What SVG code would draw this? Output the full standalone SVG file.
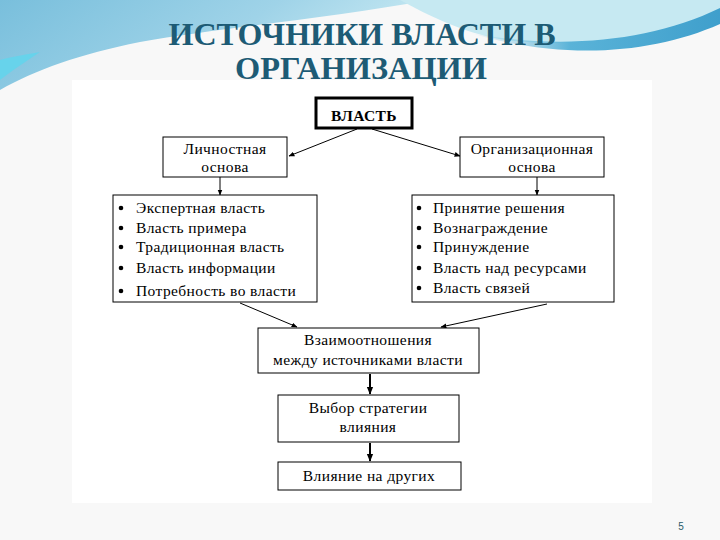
<svg xmlns="http://www.w3.org/2000/svg" width="720" height="540" viewBox="0 0 720 540">
<defs>
<linearGradient id="gL" x1="0" y1="0" x2="1" y2="0.3">
<stop offset="0" stop-color="#79bfdc"/>
<stop offset="0.6" stop-color="#9fd3e8"/>
<stop offset="1" stop-color="#c9eaf3"/>
</linearGradient>
<linearGradient id="gS" x1="0" y1="0" x2="1" y2="0">
<stop offset="0" stop-color="#7cc3df" stop-opacity="0"/>
<stop offset="0.4" stop-color="#5ab3d8"/>
<stop offset="1" stop-color="#3f9fcc"/>
</linearGradient>
<marker id="ah" viewBox="0 0 10 10" refX="9" refY="5" markerWidth="6" markerHeight="6" orient="auto" markerUnits="userSpaceOnUse">
<path d="M0,1 L10,5 L0,9 Z" fill="#000"/>
</marker>
<marker id="ahb" viewBox="0 0 10 10" refX="9" refY="5" markerWidth="8" markerHeight="8" orient="auto" markerUnits="userSpaceOnUse">
<path d="M0,1 L10,5 L0,9 Z" fill="#000"/>
</marker>
</defs>
<style>
.box{fill:#fff;stroke:#000;stroke-width:1}
.t{font-family:"Liberation Serif","Times New Roman",serif;font-size:15.5px;letter-spacing:0.4px;fill:#000}
.c{text-anchor:middle}
.title{font-family:"Liberation Serif","Times New Roman",serif;font-weight:bold;font-size:31px;fill:#1d5b75;text-anchor:middle}
.ln{stroke:#000;stroke-width:1;fill:none}
.lnb{stroke:#000;stroke-width:2;fill:none}
.bul{fill:#000}
</style>
<rect x="0" y="0" width="720" height="540" fill="#f8f8f8"/>
<rect x="72" y="80" width="580" height="423" fill="#fff"/>
<g id="background">
<path d="M0,0 H430 C330,18 220,28 140,42 C80,54 35,70 0,90 Z" fill="url(#gL)"/>
<path d="M0,60 C15,56 30,54 40,52 C25,62 10,72 0,80 Z" fill="#5fd6ee" opacity="0.8"/>
<path d="M400,0 H720 V14 C660,40 570,48 505,40 C460,32 430,16 400,0 Z" fill="#c6e9f2"/>
<path d="M470,33 C560,50 650,42 720,8 L720,24 C650,55 560,60 470,33 Z" fill="url(#gS)"/>
</g>
<g id="title">
<text class="title" x="362" y="45" textLength="387" lengthAdjust="spacingAndGlyphs">ИСТОЧНИКИ ВЛАСТИ В</text>
<text class="title" x="361" y="79" textLength="252" lengthAdjust="spacingAndGlyphs">ОРГАНИЗАЦИИ</text>
</g>
<g id="connectors">
<line class="ln" x1="357" y1="129" x2="289" y2="156" marker-end="url(#ah)"/>
<line class="ln" x1="372" y1="129" x2="460" y2="156" marker-end="url(#ah)"/>
<line class="ln" x1="220" y1="177" x2="220" y2="195" marker-end="url(#ah)"/>
<line class="ln" x1="537" y1="177" x2="537" y2="195" marker-end="url(#ah)"/>
<line class="ln" x1="240" y1="303" x2="297" y2="327" marker-end="url(#ah)"/>
<line class="ln" x1="547" y1="304" x2="441" y2="327" marker-end="url(#ah)"/>
<line class="lnb" x1="370" y1="374" x2="370" y2="394" marker-end="url(#ahb)"/>
<line class="lnb" x1="370" y1="443" x2="370" y2="461" marker-end="url(#ahb)"/>
</g>
<g id="vlast">
<rect x="316" y="98" width="96" height="30" fill="#fff" stroke="#000" stroke-width="3"/>
<text class="t c" x="364" y="121" font-weight="bold" font-size="17" letter-spacing="0">ВЛАСТЬ</text>
</g>
<g id="lichnostnaya">
<rect class="box" x="163" y="137" width="124" height="40"/>
<text class="t c" x="225" y="154">Личностная</text>
<text class="t c" x="225" y="172">основа</text>
</g>
<g id="organizatsionnaya">
<rect class="box" x="460" y="137" width="144" height="40"/>
<text class="t c" x="532" y="154">Организационная</text>
<text class="t c" x="532" y="172">основа</text>
</g>
<g id="list-left">
<rect class="box" x="113" y="195" width="204" height="107"/>
<circle class="bul" cx="121" cy="208" r="2.3"/>
<circle class="bul" cx="121" cy="228" r="2.3"/>
<circle class="bul" cx="121" cy="247" r="2.3"/>
<circle class="bul" cx="121" cy="268" r="2.3"/>
<circle class="bul" cx="121" cy="291" r="2.3"/>
<text class="t" x="136" y="213">Экспертная власть</text>
<text class="t" x="136" y="233">Власть примера</text>
<text class="t" x="136" y="252">Традиционная власть</text>
<text class="t" x="136" y="273">Власть информации</text>
<text class="t" x="136" y="296">Потребность во власти</text>
</g>
<g id="list-right">
<rect class="box" x="412" y="195" width="202" height="107"/>
<circle class="bul" cx="419" cy="208" r="2.3"/>
<circle class="bul" cx="419" cy="228" r="2.3"/>
<circle class="bul" cx="419" cy="247" r="2.3"/>
<circle class="bul" cx="419" cy="268" r="2.3"/>
<circle class="bul" cx="419" cy="288" r="2.3"/>
<text class="t" x="433" y="213">Принятие решения</text>
<text class="t" x="433" y="233">Вознаграждение</text>
<text class="t" x="433" y="252">Принуждение</text>
<text class="t" x="433" y="273">Власть над ресурсами</text>
<text class="t" x="433" y="293">Власть связей</text>
</g>
<g id="vzaimo">
<rect class="box" x="258" y="328" width="221" height="45"/>
<text class="t c" x="368" y="345">Взаимоотношения</text>
<text class="t c" x="368" y="365">между источниками власти</text>
</g>
<g id="vybor">
<rect class="box" x="278" y="395" width="181" height="47"/>
<text class="t c" x="368" y="413">Выбор стратегии</text>
<text class="t c" x="368" y="432">влияния</text>
</g>
<g id="vliyanie">
<rect class="box" x="278" y="462" width="183" height="28"/>
<text class="t c" x="369" y="481">Влияние на других</text>
</g>
<text x="681" y="530" font-family="Liberation Sans, Arial, sans-serif" font-size="10" fill="#2a5a6a" text-anchor="middle">5</text>
</svg>
